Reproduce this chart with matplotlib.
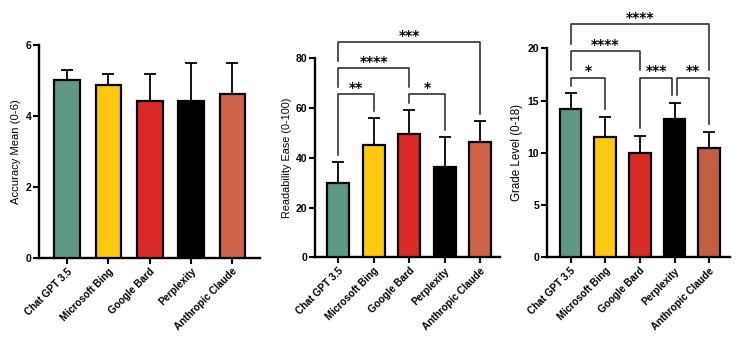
import matplotlib
matplotlib.use("Agg")
import matplotlib.pyplot as plt

plt.rcParams['font.family'] = ['Liberation Sans', 'DejaVu Sans']

categories = ["Chat GPT 3.5", "Microsoft Bing", "Google Bard", "Perplexity", "Anthropic Claude"]

accuracy_mean = [5.01, 4.87, 4.41, 4.41, 4.62]
accuracy_sd = [0.29, 0.32, 0.78, 1.07, 0.87]

ease_mean = [30.0, 45.1, 49.4, 36.1, 46.4]
ease_sd = [8.3, 10.7, 9.9, 12.2, 8.5]

grade_mean = [14.16, 11.48, 10.01, 13.27, 10.43]
grade_sd = [1.53, 1.98, 1.63, 1.53, 1.59]

# significance comparisons: (bar i, bar j, bracket level, label)
ease_sig = [(0, 1, 65.5, "**"), (2, 3, 65.5, "*"), (0, 2, 75.9, "****"), (0, 4, 86.7, "***")]
grade_sig = [(0, 1, 17.2, "*"), (2, 3, 17.2, "***"), (3, 4, 17.2, "**"),
             (0, 2, 19.7, "****"), (0, 4, 22.3, "****")]

colors1 = ["#5E9985", "#FDC90F", "#DC2A26", "#000000", "#CE6348"]
colors3 = ["#5E9985", "#FDC90F", "#DC2A26", "#000000", "#C25F40"]

fig = plt.figure(figsize=(7.5, 3.42), dpi=100)

panels = [
    dict(pos=[0.052, 0.2456, 0.2947, 0.6228], xlim=(-0.68, 4.67), ymax=6, step=2,
         mean=accuracy_mean, sd=accuracy_sd, label="Accuracy Mean (0-6)", lsize=8.1,
         colors=colors1, sig=[]),
    dict(pos=[0.42, 0.2477, 0.2467, 0.5819], xlim=(-0.65, 4.56), ymax=80, step=20,
         mean=ease_mean, sd=ease_sd, label="Readability Ease (0-100)", lsize=7.8,
         colors=colors1, sig=ease_sig),
    dict(pos=[0.7289, 0.2477, 0.2444, 0.6111], xlim=(-0.69, 4.6), ymax=20, step=5,
         mean=grade_mean, sd=grade_sd, label="Grade Level (0-18)", lsize=8.3,
         colors=colors3, sig=grade_sig),
]

for p in panels:
    ax = fig.add_axes(p["pos"])
    x = list(range(len(categories)))
    ax.bar(x, p["mean"], width=0.62, color=p["colors"], edgecolor="black",
           linewidth=1.6, zorder=3)
    ax.errorbar(x, p["mean"], yerr=[[0] * len(x), p["sd"]], fmt="none",
                ecolor="black", elinewidth=1.3, capsize=4, capthick=1.3, zorder=2)
    ax.set_xlim(*p["xlim"])
    ax.set_ylim(0, p["ymax"])
    ax.set_yticks(range(0, p["ymax"] + 1, p["step"]))
    ax.set_xticks(x)
    ax.set_xticklabels(categories, rotation=45, ha="right", rotation_mode="anchor",
                       fontsize=7.2, fontweight="bold")
    for t in ax.get_yticklabels():
        t.set_fontweight("bold")
        t.set_fontsize(7.5)
    ax.tick_params(axis="both", width=1.5, length=4, pad=2)
    ax.tick_params(axis="y", pad=1.5)
    for s in ["top", "right"]:
        ax.spines[s].set_visible(False)
    for s in ["left", "bottom"]:
        ax.spines[s].set_linewidth(1.7)
    ax.set_ylabel(p["label"], fontsize=p["lsize"], labelpad=3)

    gap = 0.036 * p["ymax"]
    tops = [m + s for m, s in zip(p["mean"], p["sd"])]
    sig = p["sig"]
    for (i, j, h, lab) in sig:
        def leg_bottom(k):
            lower = [tops[k]]
            for (a, b, hh, _) in sig:
                if hh < h and (a == k or b == k):
                    lower.append(hh)
            return max(lower) + gap
        # small offset when two brackets share the same end at the same height
        off_i, off_j = 0.0, 0.0
        for (a, b, hh, _) in sig:
            if hh == h and (a, b) != (i, j):
                if b == i:
                    off_i = 0.07
                if a == j:
                    off_j = -0.07
        xi, xj = i + off_i, j + off_j
        ax.plot([xi, xi, xj, xj], [leg_bottom(i), h, h, leg_bottom(j)],
                color="#222222", lw=1.1, clip_on=False, zorder=4)
        ax.annotate(lab, xy=((xi + xj) / 2, h), xytext=(0, 1.5), textcoords="offset points",
                    ha="center", va="baseline", fontsize=10, fontweight="bold",
                    family=["DejaVu Sans"], annotation_clip=False)

fig.savefig("out.png", dpi=100)
